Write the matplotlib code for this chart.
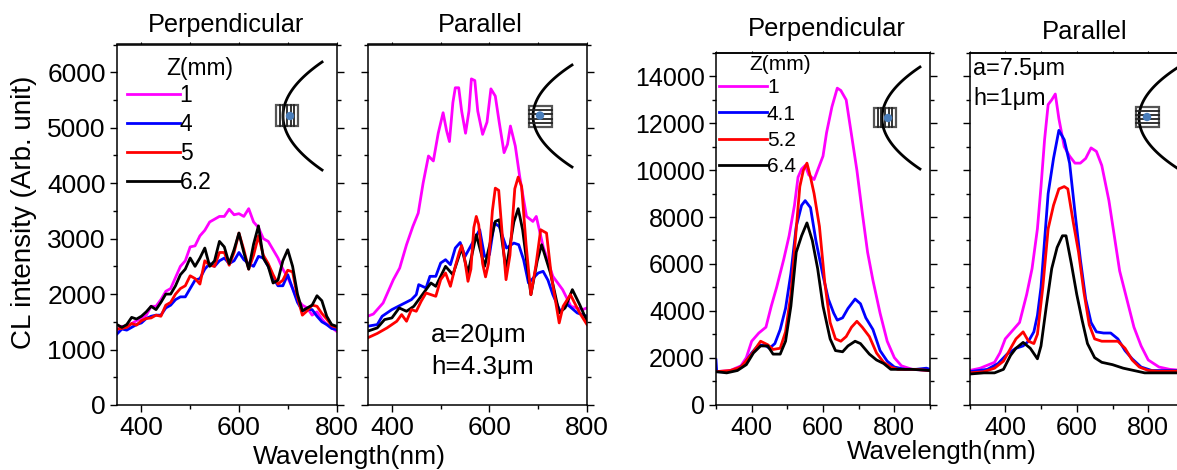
import numpy as np
import matplotlib
matplotlib.use('Agg')
import matplotlib.pyplot as plt
from matplotlib.patches import Rectangle, Circle

plt.rcParams['font.family'] = ['Liberation Sans', 'DejaVu Sans']

W, H = 1177, 470
colors = ['#ff00ff', '#0000ff', '#ff0000', '#000000']

# Panel 1, a=20um perpendicular
wl_a = np.arange(350, 801, 10)
a_perp_1 = [1350, 1420, 1400, 1470, 1520, 1560, 1620, 1780, 1780, 1900, 2050, 2100, 2300, 2500, 2600, 2850,
            2870, 3050, 3150, 3300, 3350, 3400, 3400, 3530, 3430, 3450, 3400, 3540, 3300, 3200, 3000, 2950,
            2800, 2650, 2450, 2300, 2100, 1900, 1800, 1750, 1620, 1680, 1550, 1450, 1400, 1330]
a_perp_4 = [1280, 1370, 1350, 1400, 1450, 1480, 1560, 1600, 1620, 1620, 1750, 1800, 1900, 1950, 1950, 2100,
            2250, 2280, 2450, 2550, 2500, 2600, 2650, 2550, 2600, 2750, 2620, 2550, 2500, 2680, 2650, 2500,
            2300, 2150, 2150, 2350, 2100, 1850, 1700, 1720, 1720, 1600, 1500, 1450, 1380, 1360]
a_perp_5 = [1370, 1380, 1400, 1470, 1440, 1520, 1560, 1570, 1620, 1600, 1800, 1850, 2000, 2100, 2150, 2330,
            2280, 2180, 2600, 2520, 2500, 2750, 2750, 2520, 2750, 3100, 2800, 2450, 2700, 3050, 2700, 2550,
            2350, 2180, 2250, 2430, 2400, 1950, 1620, 1700, 1800, 1780, 1650, 1550, 1430, 1400]
a_perp_6 = [1450, 1400, 1450, 1580, 1550, 1600, 1680, 1780, 1720, 1850, 2000, 2000, 2150, 2350, 2450, 2650,
            2500, 2650, 2830, 2500, 2600, 2950, 2850, 2550, 2800, 3100, 2750, 2450, 2900, 3230, 2650, 2500,
            2200, 2250, 2600, 2800, 2500, 2000, 1700, 1750, 1800, 1970, 1880, 1600, 1450, 1420]

# Panel 2, a=20um parallel
a_par_1_x = [350, 362, 382, 403, 416, 430, 443, 454, 464, 475, 485, 495, 505, 512, 518, 525, 530, 537, 543, 551, 558,
             563, 570, 576, 586, 595, 603, 612, 620, 630, 637, 643, 653, 662, 676, 689, 696, 710, 730, 750, 767, 791, 800]
a_par_1_y = [1600, 1640, 1840, 2260, 2470, 2890, 3220, 3460, 4000, 4490, 4400, 4900, 5270, 4950, 4750, 5450, 5720,
             5720, 5300, 4900, 5300, 5880, 5850, 5300, 4880, 5100, 5700, 5570, 5100, 4550, 4700, 5030, 4670, 4120,
             3400, 3310, 3400, 2860, 2320, 2080, 1780, 1720, 1750]
a_par_4_x = [350, 370, 380, 400, 420, 440, 450, 455, 470, 478, 490, 500, 510, 520, 530, 540, 550, 565, 580, 590,
             600, 610, 620, 635, 650, 660, 670, 680, 690, 700, 710, 720, 730, 745, 760, 780, 800]
a_par_4_y = [1420, 1450, 1600, 1720, 1810, 1900, 1990, 2170, 2110, 2320, 2320, 2560, 2620, 2530, 2830, 2930, 2680,
             2920, 3160, 2680, 2710, 3280, 3220, 2830, 2920, 2890, 2620, 2200, 2290, 2380, 2410, 2250, 1990, 1690,
             1810, 1660, 1600]
a_par_5_x = [350, 370, 390, 410, 420, 430, 440, 450, 460, 470, 480, 490, 500, 510, 520, 530, 538, 543, 548, 556, 562,
             568, 573, 578, 586, 592, 598, 606, 612, 619, 626, 634, 642, 652, 659, 666, 675, 685, 695, 705, 717, 727,
             743, 751, 766, 785, 800]
a_par_5_y = [1210, 1290, 1390, 1510, 1630, 1510, 1720, 1690, 1870, 2020, 1990, 1960, 2260, 2380, 2140, 2500, 2750,
             2875, 2700, 2230, 2450, 3200, 3400, 3250, 2550, 2310, 2550, 3500, 3910, 3870, 3100, 2260, 2700, 3900,
             4110, 3940, 2900, 1990, 2500, 3160, 3100, 2320, 1480, 1780, 1990, 1660, 1450]
a_par_6_x = [350, 370, 385, 400, 415, 430, 445, 460, 480, 490, 510, 525, 543, 556, 573, 590, 612, 620, 634, 650, 659,
             668, 685, 698, 707, 725, 743, 755, 770, 785, 800]
a_par_6_y = [1330, 1390, 1540, 1570, 1750, 1690, 1780, 1960, 2200, 2140, 2500, 2350, 2830, 2380, 3070, 2500, 3310,
             3340, 2440, 3300, 3540, 3160, 1990, 2600, 2890, 2380, 1660, 1750, 2080, 1810, 1510]

# Panel 3, a=7.5um perpendicular
b_perp_1_x = [300, 340, 370, 385, 400, 420, 440, 455, 470, 490, 505, 520, 530, 540, 550, 560, 575, 585, 600, 610,
              625, 640, 650, 665, 680, 695, 710, 725, 740, 760, 780, 800, 820, 850, 900]
b_perp_1_y = [1400, 1450, 1650, 2000, 2700, 3050, 3300, 4200, 5000, 6200, 7200, 8500, 9700, 10050, 10200, 9800,
              9600, 10000, 10600, 11600, 12700, 13500, 13400, 13000, 11500, 10000, 8200, 6500, 5300, 3900, 2700,
              2000, 1650, 1500, 1450]
b_perp_4_x = [300, 302, 330, 360, 380, 400, 420, 440, 450, 465, 480, 495, 510, 525, 540, 550, 565, 580, 600, 615,
              630, 640, 655, 670, 690, 705, 720, 740, 760, 780, 800, 830, 860, 890, 900]
b_perp_4_y = [1900, 1400, 1400, 1500, 1750, 2200, 2550, 2500, 2400, 2600, 3200, 4100, 5600, 7600, 8500, 8700, 8400,
              7000, 5500, 4500, 3900, 3600, 3700, 4100, 4500, 4300, 3700, 3200, 2300, 1850, 1600, 1500, 1500, 1550,
              1500]
b_perp_5_x = [300, 340, 370, 400, 425, 445, 460, 480, 495, 510, 525, 535, 545, 555, 565, 575, 590, 605, 620, 635,
              650, 665, 680, 695, 710, 730, 750, 770, 790, 810, 840, 860, 900]
b_perp_5_y = [1400, 1450, 1600, 2150, 2700, 2550, 2350, 2400, 3100, 4700, 7500, 9300, 10000, 10300, 9700, 9000, 7600,
              5200, 3500, 2800, 2700, 2900, 3300, 3550, 3300, 2900, 2200, 1800, 1600, 1500, 1500, 1500, 1450]
b_perp_6_x = [300, 330, 360, 385, 405, 425, 445, 460, 480, 495, 510, 525, 540, 555, 570, 585, 600, 620, 635, 655,
              670, 690, 705, 730, 750, 770, 790, 820, 850, 900]
b_perp_6_y = [1400, 1350, 1450, 1700, 2200, 2500, 2500, 2150, 2150, 2700, 4200, 6500, 7200, 7750, 7000, 5800, 4200,
              2800, 2300, 2250, 2500, 2700, 2600, 2150, 1900, 1750, 1500, 1500, 1500, 1450]

# Panel 4, a=7.5um parallel
b_par_1_x = [300, 330, 370, 385, 400, 420, 440, 460, 475, 490, 500, 510, 520, 530, 540, 550, 565, 580, 595, 610,
             625, 640, 655, 670, 690, 705, 720, 740, 760, 780, 800, 830, 860, 900]
b_par_1_y = [1450, 1550, 1800, 2200, 2800, 3150, 3500, 4700, 5800, 7500, 9300, 11300, 12800, 13000, 13250, 12200,
             11000, 10600, 10300, 10300, 10500, 10950, 10800, 10200, 8700, 7200, 5700, 4500, 3300, 2500, 1900, 1600,
             1500, 1450]
b_par_4_x = [300, 350, 380, 405, 430, 450, 465, 480, 490, 500, 510, 520, 535, 550, 565, 580, 595, 610, 625, 640,
             655, 675, 695, 715, 735, 755, 780, 810, 900]
b_par_4_y = [1400, 1500, 1750, 2150, 2400, 2500, 2700, 3100, 3800, 5000, 7000, 9000, 10500, 11700, 11300, 10300,
             8200, 6200, 4500, 3500, 3100, 3050, 3050, 2800, 2300, 1950, 1600, 1450, 1450]
b_par_5_x = [300, 340, 370, 395, 415, 430, 450, 465, 480, 490, 505, 520, 535, 550, 565, 575, 590, 605, 620, 635,
             650, 670, 690, 715, 735, 755, 775, 800, 830, 900]
b_par_5_y = [1350, 1400, 1550, 1850, 2400, 2800, 3100, 2700, 2600, 3000, 5000, 7500, 8500, 9200, 9300, 9200, 7800,
             6500, 4800, 3400, 2800, 2700, 2700, 2700, 2400, 1900, 1600, 1450, 1420, 1430]
b_par_6_x = [300, 340, 370, 395, 415, 430, 450, 470, 490, 500, 515, 530, 545, 560, 570, 585, 600, 615, 630, 650,
             670, 700, 730, 760, 790, 830, 860, 900]
b_par_6_y = [1300, 1350, 1350, 1500, 2100, 2400, 2650, 2400, 1950, 2500, 4200, 5800, 6700, 7200, 7200, 6000, 4700,
             3600, 2600, 2000, 1800, 1700, 1550, 1450, 1350, 1350, 1350, 1350]

z_left = ['1', '4', '5', '6.2']
z_right = ['1', '4.1', '5.2', '6.4']


def make_axes(fig, left, right, top, bottom, xlim, ylim, xmajor, xminor, ymajor, yminor, size, labels):
    ax = fig.add_axes([left / W, 1 - bottom / H, (right - left) / W, (bottom - top) / H])
    ax.set_xlim(xlim)
    ax.set_ylim(ylim)
    ax.set_xticks(xmajor)
    ax.set_xticks(xminor, minor=True)
    ax.set_yticks(ymajor)
    ax.set_yticks(yminor, minor=True)
    ax.tick_params(axis='both', which='major', direction='out', length=5, width=1, labelsize=size, pad=3)
    ax.tick_params(axis='both', which='minor', direction='out', length=2.6, width=1)
    ax.tick_params(axis='y', which='both', right=True)
    ax.tick_params(axis='y', labelleft=labels)
    for side in ax.spines:
        ax.spines[side].set_linewidth(1.1)
    # very short ticks on the top edge
    sec = ax.secondary_xaxis('top')
    sec.set_xticks(list(xmajor) + list(xminor))
    sec.tick_params(axis='x', length=1.2, width=0.8, labeltop=False)
    sec.spines['top'].set_linewidth(1.1)
    return ax


def add_legend(ax, lines, labels, x, y, size, spacing, handle):
    ax.legend(lines, labels, loc='upper left', bbox_to_anchor=(x / W, 1 - y / H), bbox_transform=fig.transFigure,
              frameon=False, fontsize=size, borderaxespad=0, borderpad=0, labelspacing=spacing,
              handlelength=handle, handletextpad=0)


# Parabolic sample sketch with grating box, in pixel coordinates of the overlay
def sketch(ov, tip_x, tip_y, k, half, box, dot, vertical):
    dy = np.linspace(-half, half, 80)
    ov.plot(tip_x + k * dy ** 2, tip_y + dy, color='black', lw=2.0)
    x0, y0, x1, y1 = box
    ov.add_patch(Rectangle((x0, y0), x1 - x0, y1 - y0, fc='none', ec='#555555', lw=1.6))
    if vertical:
        for x in np.linspace(x0, x1, 7)[1:-1]:
            ov.plot([x, x], [y0, y1], color='#222222', lw=1.3)
    else:
        for y in np.linspace(y0, y1, 6)[1:-1]:
            ov.plot([x0, x1], [y, y], color='#222222', lw=1.3)
    ov.add_patch(Circle(dot, 4.2, fc='#4a7ebb', ec='none', zorder=5))


fig = plt.figure(figsize=(W / 100, H / 100), dpi=100)

ax1 = make_axes(fig, 117, 336.5, 44.5, 405, (350, 800), (0, 6500), [400, 600, 800], [500, 700],
                range(0, 6001, 1000), range(500, 6501, 1000), 19, True)
ax2 = make_axes(fig, 367.5, 587, 44.5, 405, (350, 800), (0, 6500), [400, 600, 800], [500, 700],
                range(0, 6001, 1000), range(500, 6501, 1000), 19, False)
ax3 = make_axes(fig, 716, 930, 53, 404.5, (300, 900), (0, 15000), [400, 600, 800], [300, 500, 700, 900],
                range(0, 14001, 2000), range(1000, 15001, 2000), 18, True)
ax4 = make_axes(fig, 969.5, 1184, 53, 404.5, (300, 900), (0, 15000), [400, 600, 800], [300, 500, 700, 900],
                range(0, 14001, 2000), range(1000, 15001, 2000), 18, False)

lw = 2.0

lines1 = []
for vals, c in zip([a_perp_1, a_perp_4, a_perp_5, a_perp_6], colors):
    lines1 += ax1.plot(wl_a, vals, color=c, lw=lw)

ax2.plot(a_par_1_x, a_par_1_y, color=colors[0], lw=lw)
ax2.plot(a_par_4_x, a_par_4_y, color=colors[1], lw=lw)
ax2.plot(a_par_6_x, a_par_6_y, color=colors[3], lw=lw)
ax2.plot(a_par_5_x, a_par_5_y, color=colors[2], lw=lw)

lines3 = []
lines3 += ax3.plot(b_perp_1_x, b_perp_1_y, color=colors[0], lw=lw)
lines3 += ax3.plot(b_perp_4_x, b_perp_4_y, color=colors[1], lw=lw)
lines3 += ax3.plot(b_perp_5_x, b_perp_5_y, color=colors[2], lw=lw)
lines3 += ax3.plot(b_perp_6_x, b_perp_6_y, color=colors[3], lw=lw)

ax4.plot(b_par_1_x, b_par_1_y, color=colors[0], lw=lw)
ax4.plot(b_par_4_x, b_par_4_y, color=colors[1], lw=lw)
ax4.plot(b_par_5_x, b_par_5_y, color=colors[2], lw=lw)
ax4.plot(b_par_6_x, b_par_6_y, color=colors[3], lw=lw)

add_legend(ax1, lines1, z_left, 127, 84, 16.5, 0.26, 2.3)
add_legend(ax3, lines3, z_right, 719, 78, 15, 0.36, 2.3)

# Overlay in pixels for the titles, labels and sketches
ov = fig.add_axes([0, 0, 1, 1], zorder=10)
ov.set_axis_off()
ov.patch.set_alpha(0)

ov.text(226, 25, 'Perpendicular', fontsize=18.2, ha='center', va='center')
ov.text(480, 25, 'Parallel', fontsize=18.2, ha='center', va='center')
ov.text(827, 29, 'Perpendicular', fontsize=18.4, ha='center', va='center')
ov.text(1085, 32, 'Parallel', fontsize=18.4, ha='center', va='center')
ov.text(24, 212, 'CL intensity (Arb. unit)', fontsize=20, rotation=90, ha='center', va='center')
ov.text(349, 457, 'Wavelength(nm)', fontsize=19, ha='center', va='center')
ov.text(942, 452, 'Wavelength(nm)', fontsize=18.7, ha='center', va='center')
ov.text(166, 68, 'Z(mm)', fontsize=16.4, ha='left', va='center')
ov.text(749, 64, 'Z(mm)', fontsize=15, ha='left', va='center')
ov.text(431, 335, 'a=20μm', fontsize=18.8, ha='left', va='center')
ov.text(431, 367, 'h=4.3μm', fontsize=18.8, ha='left', va='center')
ov.text(973, 69, 'a=7.5μm', fontsize=16.8, ha='left', va='center')
ov.text(973, 98, 'h=1μm', fontsize=16.8, ha='left', va='center')

sketch(ov, 283, 116, 0.0134, 54, (276, 105, 298, 126), (290, 116), True)
sketch(ov, 533, 116, 0.0150, 51, (529, 106, 552, 127), (540, 115.5), False)
sketch(ov, 882, 118, 0.0146, 51, (874, 108, 896, 127), (888, 118), True)
sketch(ov, 1139, 118, 0.0152, 60, (1136, 107, 1159, 127), (1147, 117), False)
ov.set_xlim(0, W)
ov.set_ylim(H, 0)

fig.savefig('out.png', dpi=100)
